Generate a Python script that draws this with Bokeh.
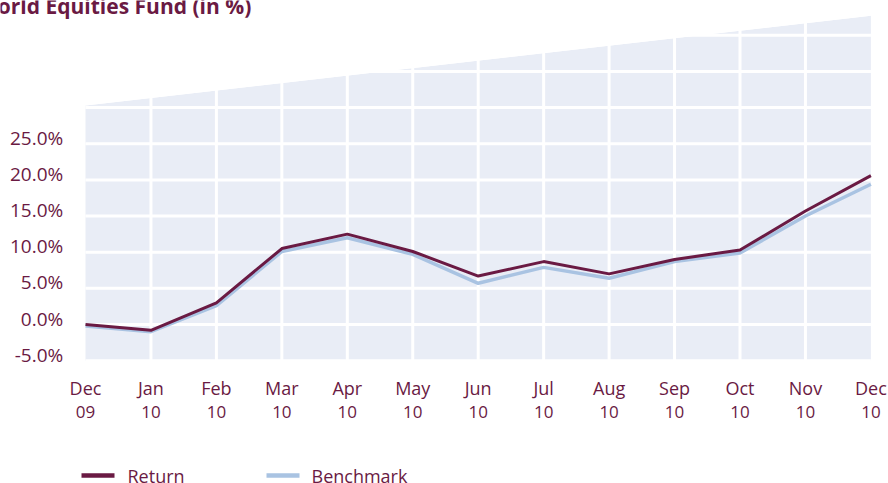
from bokeh.plotting import figure
from bokeh.models import Range1d
from bokeh.core.properties import value
from bokeh.embed import file_html
from bokeh.resources import INLINE

# ---- data ----
months = ["Dec", "Jan", "Feb", "Mar", "Apr", "May", "Jun", "Jul", "Aug", "Sep", "Oct", "Nov", "Dec"]
years = ["09", "10", "10", "10", "10", "10", "10", "10", "10", "10", "10", "10", "10"]
ret = [0.0, -0.8, 3.0, 10.5, 12.5, 10.1, 6.7, 8.7, 7.0, 9.0, 10.3, 15.7, 20.6]
bench = [-0.2, -1.0, 2.6, 10.1, 12.0, 9.7, 5.7, 7.9, 6.4, 8.7, 9.9, 15.0, 19.4]
y_ticks = [-5, 0, 5, 10, 15, 20, 25]
grid_y = [-5, 0, 5, 10, 15, 20, 25, 30, 35, 40]
series_names = ["Return", "Benchmark"]
title_text = "World Equities Fund (in %)"

# decorative slanted top of the plot background (value at left / right end)
slant_left, slant_right = 30.3, 42.7

# ---- style / layout ----
PURPLE = "#6a1a43"
BLUE = "#a9c3e2"
BG = "#e9edf6"
FONT = "Open Sans"
W, H = 888, 483
X0_PX, DX_PX = 85.0, 65.45      # pixel of first month, pixels per month
Y0_PX, DY_PX = 324.0, 7.23      # pixel of 0 %, pixels per 1 %
FIX = 7.5                       # baseline correction for rendered text (px)


def px2x(px):
    return (px - X0_PX) / DX_PX


def py2y(py):
    return (Y0_PX - py) / DY_PX


def base(py):
    """data y for a text whose visual baseline should sit at pixel py"""
    return py2y(py - FIX)


x = list(range(len(months)))
x_last = x[-1]
y_bottom = min(grid_y)

p = figure(width=W, height=H, output_backend="svg", toolbar_location=None,
           x_range=Range1d(px2x(0), px2x(W)), y_range=Range1d(py2y(H), py2y(0)),
           x_axis_location=None, y_axis_location=None,
           min_border=0, min_border_left=0, min_border_right=0,
           min_border_top=0, min_border_bottom=0)
p.outline_line_color = None
p.grid.visible = False
p.background_fill_color = "white"
p.border_fill_color = "white"

# plot background (trapezoid)
p.patch([0, x_last, x_last, 0], [y_bottom, y_bottom, slant_right, slant_left],
        fill_color=BG, line_color=None)

# white grid lines
top = py2y(0)
p.segment(x0=x[1:-1], y0=[y_bottom] * (len(x) - 2), x1=x[1:-1], y1=[top] * (len(x) - 2),
          line_color="white", line_width=3)
p.segment(x0=[0] * len(grid_y), y0=grid_y, x1=[x_last] * len(grid_y), y1=grid_y,
          line_color="white", line_width=3)

# white wedge above the slanted top
p.patch([0, x_last, x_last, 0], [slant_left, slant_right, top + 5, top + 5],
        fill_color="white", line_color=None)

# series lines
p.line(x, bench, line_color=BLUE, line_width=3.5)
p.line(x, ret, line_color=PURPLE, line_width=3)

# y tick labels (baseline ~1.5 px below their grid line)
p.text(x=[px2x(62.7)] * len(y_ticks),
       y=[base(Y0_PX - t * DY_PX + 1.5) for t in y_ticks],
       text=[f"{t:.1f}%" for t in y_ticks],
       text_align="right", text_baseline="alphabetic", text_color=PURPLE,
       text_font=value(FONT), text_font_size="19px")

# x tick labels (two lines)
p.text(x=x, y=[base(395)] * len(x), text=months, text_align="center",
       text_baseline="alphabetic", text_color=PURPLE,
       text_font=value(FONT), text_font_size="18px")
p.text(x=x, y=[base(419)] * len(x), text=years, text_align="center",
       text_baseline="alphabetic", text_color=PURPLE,
       text_font=value(FONT), text_font_size="17px")

# title (cut at the top-left edge, as in the original)
p.text(x=[px2x(-23)], y=[base(12.5)], text=[title_text], text_align="left",
       text_baseline="alphabetic", text_color=PURPLE, text_font=value(FONT),
       text_font_style="bold", text_font_size="21px")

# legend
leg_y = py2y(475)
leg_x0 = [px2x(81), px2x(266)]
leg_x1 = [px2x(114), px2x(299)]
p.segment(x0=leg_x0, y0=[leg_y] * 2, x1=leg_x1, y1=[leg_y] * 2,
          line_color=[PURPLE, BLUE], line_width=4.5)
p.text(x=[px2x(127), px2x(311)], y=[base(483)] * 2, text=series_names,
       text_align="left", text_baseline="alphabetic", text_color=PURPLE,
       text_font=value(FONT), text_font_size="18px")

open("out.html", "w").write(file_html(p, INLINE))
